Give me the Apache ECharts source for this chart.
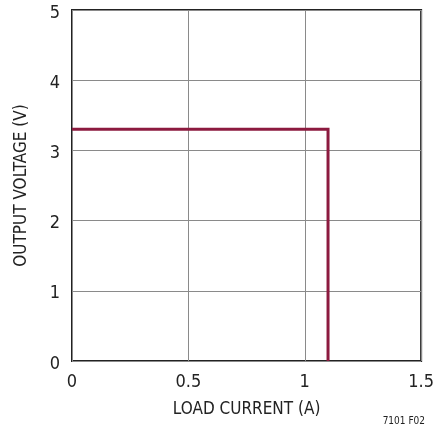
<!DOCTYPE html>
<html>
<head>
<meta charset="utf-8">
<script src="https://cdn.jsdelivr.net/npm/echarts@6/dist/echarts.min.js"></script>
<style>
  html, body { margin: 0; padding: 0; background: #fff; }
  #chart { width: 437px; height: 432px; }
</style>
</head>
<body>
<div id="chart"></div>
<script>
// load current (A) and output voltage (V) along the curve
const currentA = [0, 1.1, 1.1];
const voltageV = [3.3, 3.3, 0];
const xTicks = [0, 0.5, 1, 1.5];
const yTicks = [0, 1, 2, 3, 4, 5];

const font = '"Liberation Sans Narrow", "DejaVu Sans Condensed", sans-serif';
const chart = echarts.init(document.getElementById('chart'));

const pts = currentA.map((x, i) => [x, voltageV[i]]);

const option = {
  animation: false,
  grid: {
    left: 72, right: 12, top: 10, bottom: 71,
    show: true, borderColor: '#222', borderWidth: 2
  },
  xAxis: {
    type: 'value',
    min: xTicks[0],
    max: xTicks[xTicks.length - 1],
    interval: 0.5,
    name: 'LOAD CURRENT (A)',
    nameLocation: 'middle',
    nameGap: 40,
    nameTextStyle: { fontFamily: font, fontSize: 17, color: '#222' },
    axisLine: { show: false },
    axisTick: { show: false },
    axisLabel: { fontFamily: font, fontSize: 18, color: '#222', margin: 12 },
    splitLine: { show: true, lineStyle: { color: '#8a8a8a', width: 1 } }
  },
  yAxis: {
    type: 'value',
    min: yTicks[0],
    max: yTicks[yTicks.length - 1],
    interval: 1,
    name: 'OUTPUT VOLTAGE (V)',
    nameLocation: 'middle',
    nameGap: 42,
    nameTextStyle: { fontFamily: font, fontSize: 17, color: '#222' },
    axisLine: { show: false },
    axisTick: { show: false },
    axisLabel: {
      fontFamily: font, fontSize: 18, color: '#222', margin: 12,
      verticalAlign: 'top', padding: [-6, 0, 0, 0]
    },
    splitLine: { show: true, lineStyle: { color: '#8a8a8a', width: 1 } }
  },
  graphic: [
    { type: 'text', right: 12, top: 416,
      style: { text: '7101 F02', fontFamily: font, fontSize: 10, fill: '#222' } }
  ],
  series: [{
    type: 'line',
    data: pts,
    showSymbol: false,
    lineStyle: { color: '#8c1a3f', width: 3, join: 'miter' },
    z: 5
  }]
};
chart.setOption(option);
</script>
</body>
</html>
